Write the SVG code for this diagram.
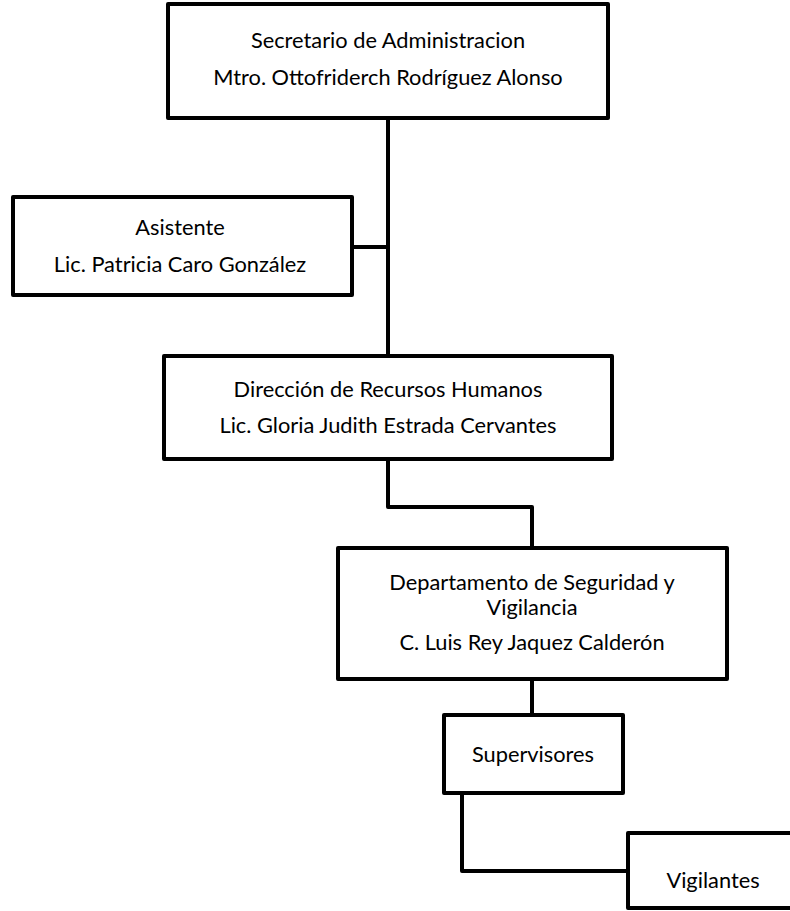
<svg xmlns="http://www.w3.org/2000/svg" width="790" height="911" viewBox="0 0 790 911">
<style>
.box{fill:#fff;stroke:#000;stroke-width:4;stroke-linejoin:round}
.ln{fill:none;stroke:#000;stroke-width:4;stroke-linejoin:round}
text{font-family:Lato,"Liberation Sans",Arial,sans-serif;font-size:21.8px;fill:#000;text-anchor:middle}
</style>
<rect width="790" height="911" fill="#fff"/>
<g id="connectors">
<path class="ln" d="M388,118 V356"/>
<path class="ln" d="M352,247 H388"/>
<path class="ln" d="M388,459 V507 H532 V548"/>
<path class="ln" d="M532,679 V715"/>
<path class="ln" d="M462,793 V871 H628"/>
</g>
<g id="secretario">
<rect class="box" x="168" y="4" width="440" height="114"/>
<text x="388" y="48">Secretario de Administracion</text>
<text x="388" y="85">Mtro. Ottofriderch Rodríguez Alonso</text>
</g>
<g id="asistente">
<rect class="box" x="13" y="197" width="339" height="98"/>
<text x="180" y="235">Asistente</text>
<text x="180" y="272">Lic. Patricia Caro González</text>
</g>
<g id="direccion">
<rect class="box" x="164" y="356" width="448" height="103"/>
<text x="388" y="397">Dirección de Recursos Humanos</text>
<text x="388" y="433">Lic. Gloria Judith Estrada Cervantes</text>
</g>
<g id="departamento">
<rect class="box" x="338" y="548" width="389" height="131"/>
<text x="532" y="590">Departamento de Seguridad y</text>
<text x="532" y="615">Vigilancia</text>
<text x="532" y="650">C. Luis Rey Jaquez Calderón</text>
</g>
<g id="supervisores">
<rect class="box" x="444" y="715" width="179" height="78"/>
<text x="533" y="762">Supervisores</text>
</g>
<g id="vigilantes">
<rect class="box" x="628" y="833" width="170" height="75"/>
<text x="713" y="888">Vigilantes</text>
</g>
</svg>
